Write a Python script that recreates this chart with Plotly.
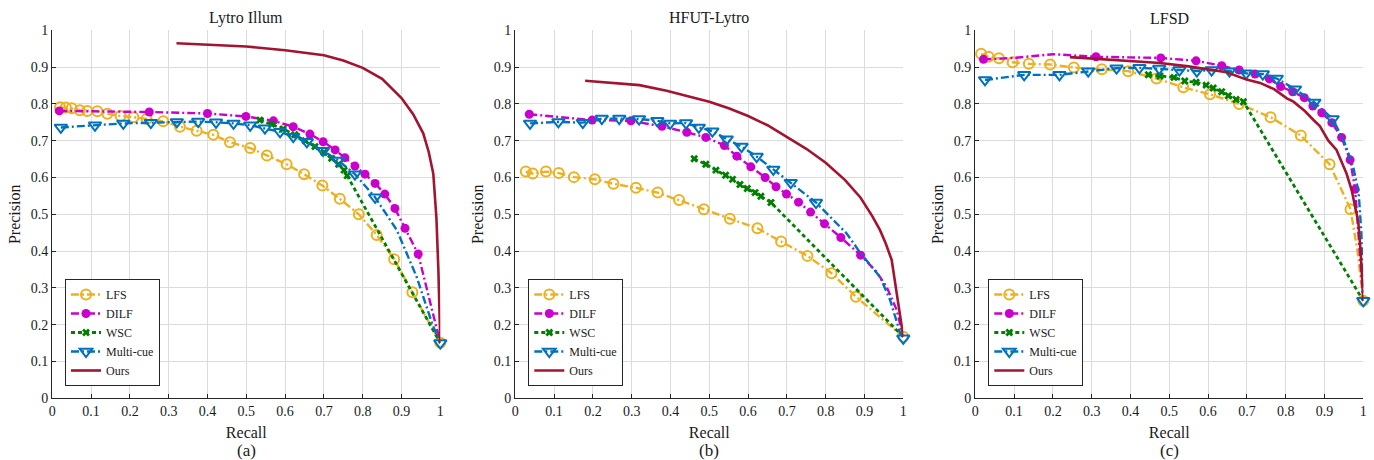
import plotly.graph_objects as go

# ---------------- data ----------------
SERIES = ["LFS", "DILF", "WSC", "Multi-cue", "Ours"]
PANEL_TITLES = ["Lytro Illum", "HFUT-Lytro", "LFSD"]
PANEL_CAPTIONS = ["(a)", "(b)", "(c)"]
TICKS = [0, 0.1, 0.2, 0.3, 0.4, 0.5, 0.6, 0.7, 0.8, 0.9, 1]

# ----- (a) Lytro Illum -----
a_lfs_x = [0.020, 0.035, 0.050, 0.071, 0.090, 0.116, 0.142, 0.176, 0.209, 0.243, 0.286, 0.329, 0.372, 0.415, 0.458, 0.510, 0.553, 0.604, 0.649, 0.696, 0.741, 0.790, 0.836, 0.881, 0.928, 1.0]
a_lfs_y = [0.791, 0.790, 0.788, 0.783, 0.781, 0.780, 0.773, 0.767, 0.764, 0.759, 0.753, 0.738, 0.727, 0.716, 0.696, 0.680, 0.660, 0.636, 0.609, 0.578, 0.542, 0.500, 0.444, 0.378, 0.288, 0.151]
a_lfs_m = [1] * 26

a_dilf_x = [0.018, 0.250, 0.400, 0.499, 0.570, 0.621, 0.664, 0.698, 0.729, 0.754, 0.780, 0.806, 0.832, 0.857, 0.883, 0.909, 0.943, 1.0]
a_dilf_y = [0.781, 0.778, 0.774, 0.766, 0.754, 0.738, 0.718, 0.697, 0.675, 0.654, 0.631, 0.609, 0.584, 0.555, 0.516, 0.462, 0.392, 0.150]
a_dilf_m = [1] * 17 + [0]

a_wsc_x = [0.535, 0.565, 0.595, 0.625, 0.652, 0.677, 0.700, 0.720, 0.738, 0.752, 0.760, 1.0]
a_wsc_y = [0.756, 0.745, 0.732, 0.716, 0.700, 0.684, 0.668, 0.652, 0.636, 0.620, 0.605, 0.150]
a_wsc_m = [1] * 11 + [0]

a_mc_x = [0.022, 0.110, 0.183, 0.254, 0.321, 0.376, 0.422, 0.467, 0.510, 0.548, 0.587, 0.621, 0.656, 0.698, 0.737, 0.780, 0.832, 0.888, 0.939, 0.980, 1.0]
a_mc_y = [0.736, 0.742, 0.747, 0.749, 0.751, 0.752, 0.750, 0.747, 0.742, 0.734, 0.724, 0.711, 0.697, 0.673, 0.646, 0.609, 0.546, 0.457, 0.330, 0.200, 0.150]
a_mc_m = [1] * 17 + [0, 0, 0, 1]

a_ours_x = [0.32, 0.40, 0.50, 0.60, 0.70, 0.75, 0.80, 0.85, 0.90, 0.93, 0.956, 0.970, 0.982, 0.990, 0.995, 1.0]
a_ours_y = [0.965, 0.961, 0.956, 0.946, 0.932, 0.918, 0.898, 0.868, 0.816, 0.772, 0.720, 0.670, 0.610, 0.490, 0.350, 0.150]

# ----- (b) HFUT-Lytro -----
b_lfs_x = [0.027, 0.045, 0.079, 0.112, 0.151, 0.205, 0.253, 0.311, 0.367, 0.422, 0.486, 0.553, 0.624, 0.685, 0.753, 0.815, 0.878, 1.0]
b_lfs_y = [0.616, 0.611, 0.616, 0.612, 0.601, 0.595, 0.583, 0.572, 0.559, 0.539, 0.514, 0.488, 0.462, 0.426, 0.387, 0.340, 0.276, 0.167]
b_lfs_m = [1] * 18

b_dilf_x = [0.036, 0.198, 0.298, 0.378, 0.442, 0.491, 0.539, 0.571, 0.607, 0.644, 0.672, 0.699, 0.730, 0.761, 0.797, 0.839, 0.890, 0.930, 0.957, 0.983, 1.0]
b_dilf_y = [0.772, 0.756, 0.754, 0.739, 0.723, 0.709, 0.687, 0.658, 0.629, 0.600, 0.575, 0.555, 0.533, 0.506, 0.474, 0.437, 0.389, 0.345, 0.303, 0.240, 0.167]
b_dilf_m = [1] * 17 + [0, 0, 0, 0]

b_wsc_x = [0.461, 0.491, 0.517, 0.542, 0.560, 0.579, 0.598, 0.618, 0.633, 0.659, 1.0]
b_wsc_y = [0.651, 0.636, 0.620, 0.606, 0.595, 0.581, 0.570, 0.559, 0.549, 0.532, 0.167]
b_wsc_m = [1] * 10 + [0]

b_mc_x = [0.038, 0.111, 0.174, 0.223, 0.268, 0.319, 0.366, 0.399, 0.440, 0.473, 0.508, 0.545, 0.583, 0.622, 0.665, 0.710, 0.775, 0.854, 0.890, 0.940, 0.966, 0.992, 1.0]
b_mc_y = [0.747, 0.751, 0.749, 0.760, 0.760, 0.759, 0.754, 0.747, 0.748, 0.736, 0.726, 0.704, 0.684, 0.657, 0.622, 0.586, 0.532, 0.448, 0.394, 0.330, 0.267, 0.177, 0.163]
b_mc_m = [1] * 17 + [0, 0, 0, 0, 0, 1]

b_ours_x = [0.18, 0.25, 0.32, 0.39, 0.45, 0.50, 0.55, 0.60, 0.65, 0.70, 0.75, 0.80, 0.85, 0.89, 0.92, 0.94, 0.955, 0.97, 1.0]
b_ours_y = [0.863, 0.858, 0.851, 0.836, 0.820, 0.806, 0.788, 0.767, 0.742, 0.711, 0.678, 0.640, 0.593, 0.545, 0.495, 0.457, 0.420, 0.376, 0.167]

# ----- (c) LFSD -----
c_lfs_x = [0.015, 0.034, 0.061, 0.096, 0.138, 0.193, 0.254, 0.326, 0.394, 0.467, 0.536, 0.605, 0.680, 0.761, 0.839, 0.913, 0.967, 0.985, 1.0]
c_lfs_y = [0.936, 0.928, 0.924, 0.913, 0.909, 0.907, 0.899, 0.894, 0.889, 0.869, 0.845, 0.826, 0.800, 0.764, 0.714, 0.636, 0.514, 0.400, 0.265]
c_lfs_m = [1] * 17 + [0, 1]

c_dilf_x = [0.021, 0.100, 0.201, 0.311, 0.478, 0.569, 0.635, 0.680, 0.721, 0.758, 0.787, 0.818, 0.848, 0.870, 0.893, 0.919, 0.944, 0.966, 0.979, 1.0]
c_dilf_y = [0.921, 0.925, 0.935, 0.928, 0.925, 0.917, 0.904, 0.892, 0.881, 0.868, 0.847, 0.833, 0.817, 0.794, 0.776, 0.749, 0.709, 0.648, 0.568, 0.265]
c_dilf_m = [1, 0, 0] + [1] * 16 + [0]

c_wsc_x = [0.446, 0.476, 0.512, 0.540, 0.569, 0.595, 0.613, 0.635, 0.652, 0.672, 0.691, 1.0]
c_wsc_y = [0.879, 0.876, 0.872, 0.862, 0.859, 0.851, 0.843, 0.833, 0.822, 0.812, 0.806, 0.265]
c_wsc_m = [1] * 11 + [0]

c_mc_x = [0.025, 0.126, 0.217, 0.291, 0.364, 0.423, 0.474, 0.526, 0.571, 0.609, 0.655, 0.698, 0.741, 0.777, 0.824, 0.874, 0.921, 0.950, 0.974, 0.988, 0.995, 1.0]
c_mc_y = [0.865, 0.879, 0.879, 0.889, 0.897, 0.898, 0.896, 0.892, 0.889, 0.892, 0.889, 0.883, 0.881, 0.869, 0.840, 0.804, 0.759, 0.700, 0.629, 0.560, 0.450, 0.265]
c_mc_m = [1] * 17 + [0, 0, 0, 0, 1]

c_ours_x = [0.244, 0.373, 0.476, 0.550, 0.605, 0.648, 0.699, 0.734, 0.770, 0.803, 0.820, 0.850, 0.871, 0.888, 0.910, 0.931, 0.945, 0.957, 0.970, 0.979, 0.987, 0.993, 0.997, 1.0]
c_ours_y = [0.927, 0.919, 0.911, 0.902, 0.894, 0.886, 0.866, 0.857, 0.840, 0.815, 0.806, 0.780, 0.757, 0.740, 0.700, 0.675, 0.640, 0.610, 0.566, 0.525, 0.480, 0.400, 0.320, 0.265]

PANELS = [
    {"LFS": (a_lfs_x, a_lfs_y, a_lfs_m), "DILF": (a_dilf_x, a_dilf_y, a_dilf_m),
     "WSC": (a_wsc_x, a_wsc_y, a_wsc_m), "Multi-cue": (a_mc_x, a_mc_y, a_mc_m),
     "Ours": (a_ours_x, a_ours_y, None)},
    {"LFS": (b_lfs_x, b_lfs_y, b_lfs_m), "DILF": (b_dilf_x, b_dilf_y, b_dilf_m),
     "WSC": (b_wsc_x, b_wsc_y, b_wsc_m), "Multi-cue": (b_mc_x, b_mc_y, b_mc_m),
     "Ours": (b_ours_x, b_ours_y, None)},
    {"LFS": (c_lfs_x, c_lfs_y, c_lfs_m), "DILF": (c_dilf_x, c_dilf_y, c_dilf_m),
     "WSC": (c_wsc_x, c_wsc_y, c_wsc_m), "Multi-cue": (c_mc_x, c_mc_y, c_mc_m),
     "Ours": (c_ours_x, c_ours_y, None)},
]

# ---------------- styles ----------------
DASHDOT = "8px,3px,2px,3px"
STYLE = {
    "LFS": dict(color="#EDB120", dash=DASHDOT, width=2.4, symbol="circle-open", size=10, mlw=2),
    "DILF": dict(color="#CC00CC", dash=DASHDOT, width=2.4, symbol="circle", size=9, mlw=0),
    "WSC": dict(color="#008000", dash="4px,3px", width=2.8, symbol="x", size=7, mlw=0),
    "Multi-cue": dict(color="#0072BD", dash=DASHDOT, width=2.4, symbol="triangle-down-open", size=11, mlw=2),
    "Ours": dict(color="#A2142F", dash="solid", width=2.6, symbol=None, size=0, mlw=0),
}

FONT = "Liberation Serif"
TXT = "#1a1a1a"
W, H = 1374, 460
X_DOMAINS = [(52.3 / W, 440.3 / W), (515.3 / W, 903.3 / W), (975.3 / W, 1363.3 / W)]
Y_DOMAIN = (1 - 398.3 / H, 1 - 30.3 / H)
LEGEND_X = [65 / W, 528.3 / W, 988.3 / W]

fig = go.Figure()

for p, panel in enumerate(PANELS):
    xa = "x" if p == 0 else f"x{p + 1}"
    ya = "y" if p == 0 else f"y{p + 1}"
    lg = "legend" if p == 0 else f"legend{p + 1}"
    for name in SERIES:
        xs, ys, mk = panel[name]
        st = STYLE[name]
        fig.add_trace(go.Scatter(
            x=xs, y=ys, xaxis=xa, yaxis=ya, mode="lines", showlegend=False,
            line=dict(color=st["color"], width=st["width"], dash=st["dash"]),
            cliponaxis=False, hoverinfo="skip"))
        if mk is not None:
            mx = [x for x, m in zip(xs, mk) if m]
            my = [y for y, m in zip(ys, mk) if m]
            fig.add_trace(go.Scatter(
                x=mx, y=my, xaxis=xa, yaxis=ya, mode="markers", showlegend=False,
                marker=dict(symbol=st["symbol"], size=st["size"], color=st["color"],
                            line=dict(color=st["color"], width=st["mlw"])),
                cliponaxis=False))
        fig.add_trace(go.Scatter(
            x=[None], y=[None], xaxis=xa, yaxis=ya, name=name, legend=lg,
            mode="lines+markers" if mk is not None else "lines",
            line=dict(color=st["color"], width=st["width"], dash=st["dash"]),
            marker=dict(symbol=st["symbol"] or "circle", size=st["size"] if st["size"] else 1,
                        color=st["color"], line=dict(color=st["color"], width=st["mlw"]))))

layout = dict(
    width=W, height=H, margin=dict(l=0, r=0, t=0, b=0, autoexpand=False),
    paper_bgcolor="white", plot_bgcolor="white",
    font=dict(family=FONT, size=14, color=TXT),
    showlegend=True,
)

axis_common = dict(
    range=[0, 1], tickmode="array", tickvals=TICKS, ticktext=[f"{t:g}" for t in TICKS],
    showgrid=True, gridcolor="#DCDCDC", gridwidth=1, zeroline=False,
    showline=True, linecolor="#262626", linewidth=1.3, mirror=False,
    ticks="inside", ticklen=4, tickwidth=1, tickcolor="#262626",
    tickfont=dict(family=FONT, size=14, color=TXT), fixedrange=True, automargin=False,
)

annotations = []
for p in range(3):
    sx = "" if p == 0 else str(p + 1)
    layout[f"xaxis{sx}"] = dict(axis_common, domain=list(X_DOMAINS[p]), anchor=f"y{sx}",
                                title=dict(text="Recall", font=dict(family=FONT, size=16, color=TXT), standoff=8))
    layout[f"yaxis{sx}"] = dict(axis_common, domain=list(Y_DOMAIN), anchor=f"x{sx}",
                                title=dict(text="Precision", font=dict(family=FONT, size=16, color=TXT), standoff=6))
    lg = "legend" if p == 0 else f"legend{p + 1}"
    layout[lg] = dict(x=LEGEND_X[p], y=1 - 386 / H, xanchor="left", yanchor="bottom",
                      bgcolor="white", bordercolor="#262626", borderwidth=1,
                      font=dict(family=FONT, size=12, color=TXT), tracegroupgap=0)
    cx = (X_DOMAINS[p][0] + X_DOMAINS[p][1]) / 2
    annotations.append(dict(text=PANEL_TITLES[p], x=cx, y=1 - 18.3 / H, xref="paper", yref="paper",
                            xanchor="center", yanchor="middle", showarrow=False,
                            font=dict(family=FONT, size=16, color=TXT)))
    annotations.append(dict(text=PANEL_CAPTIONS[p], x=cx, y=1 - 450.7 / H, xref="paper", yref="paper",
                            xanchor="center", yanchor="middle", showarrow=False,
                            font=dict(family=FONT, size=17, color=TXT)))
layout["annotations"] = annotations

fig.update_layout(**layout)
fig.write_html("out.html")
